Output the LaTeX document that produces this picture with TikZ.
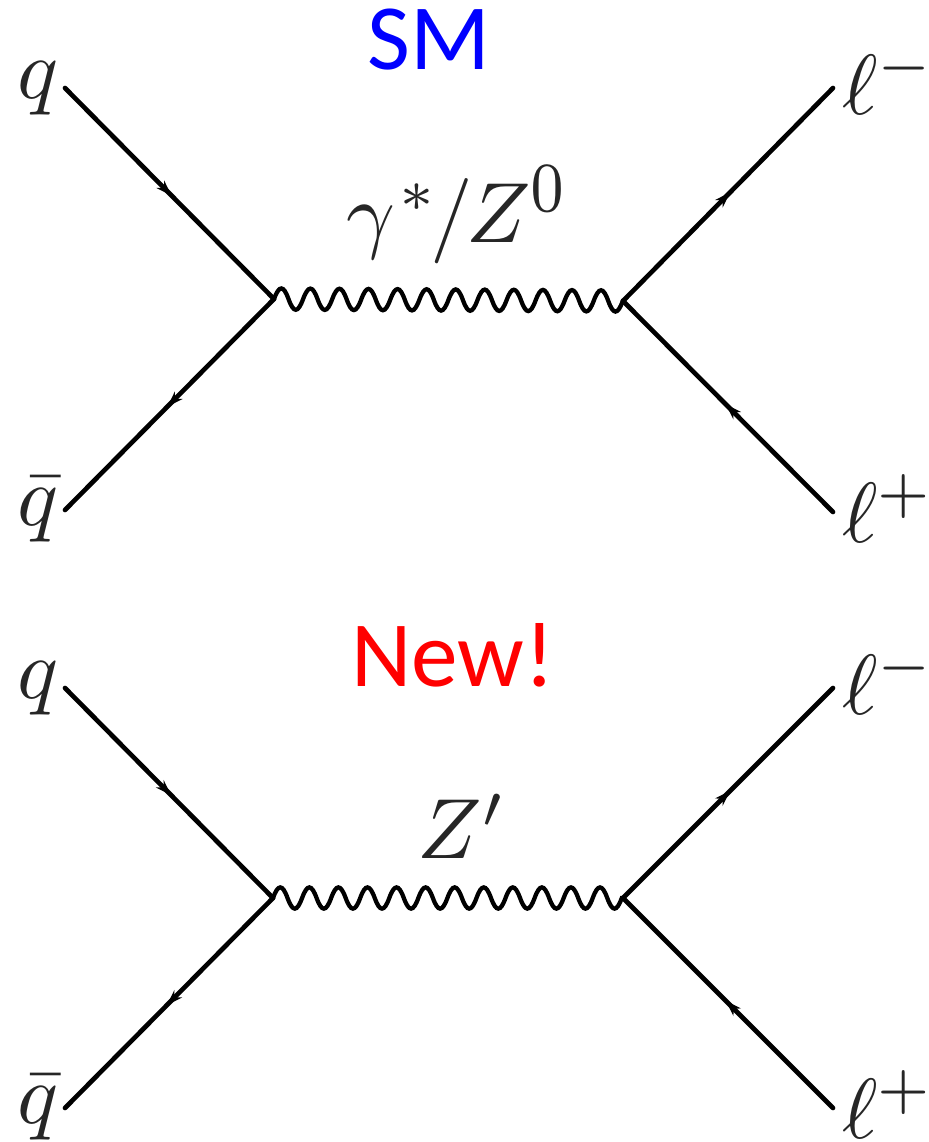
\documentclass[tikz,border=0pt]{standalone}
\usepackage{amsmath,amssymb}
\usepackage{fontspec}
\usepackage{xcolor}
\usepackage{tikz}
\usetikzlibrary{arrows.meta,positioning,decorations.markings}
\newfontfamily\titlefont{Carlito}
\definecolor{smblue}{RGB}{0,0,255}
\definecolor{newred}{RGB}{255,0,0}
\pgfdeclaredecoration{wiggle}{wave}{
  \state{wave}[width=\pgfdecorationsegmentlength,
               switch if less than=0.5\pgfdecorationsegmentlength to last]{
    \pgfpathcurveto{\pgfqpoint{0.18\pgfdecorationsegmentlength}{1.33\pgfdecorationsegmentamplitude}}
                   {\pgfqpoint{0.32\pgfdecorationsegmentlength}{1.33\pgfdecorationsegmentamplitude}}
                   {\pgfqpoint{0.5\pgfdecorationsegmentlength}{0pt}}
    \pgfpathcurveto{\pgfqpoint{0.68\pgfdecorationsegmentlength}{-1.33\pgfdecorationsegmentamplitude}}
                   {\pgfqpoint{0.82\pgfdecorationsegmentlength}{-1.33\pgfdecorationsegmentamplitude}}
                   {\pgfqpoint{\pgfdecorationsegmentlength}{0pt}}
  }
  \state{last}[width=0pt,next state=final]{\pgfpathlineto{\pgfpointdecoratedinputsegmentlast}}
  \state{final}{\pgfpathlineto{\pgfpointdecoratedpathlast}}
}

\begin{document}
\begin{tikzpicture}[
    x=0.75pt, y=-0.75pt,
    node distance=0.1cm and 0.1cm,
    lab/.style={scale=6.4, inner sep=0pt, text=black!85},
    head/.style={font=\titlefont\fontsize{70}{80}\selectfont, inner sep=0pt},
    fermion/.style={line width=3.5pt, line cap=round, decoration={markings,
                    mark=at position 0.51 with {\arrow[line width=1pt]{Stealth[length=12pt,width=8pt]}}},
                    postaction={decorate}},
    boson/.style={line width=3.2pt, decorate, decoration={wiggle, segment length=21.8pt, amplitude=8pt}}
]
\useasboundingbox (0,0) rectangle (928,1142);
% SM diagram
\coordinate (q1) at (65,88);
\coordinate (qb1) at (65,510);
\coordinate (va1) at (274,299);
\coordinate (vb1) at (623,301);
\coordinate (lm1) at (833,88);
\coordinate (lp1) at (833,512);
\node[lab, left=0.115cm of q1] (qlab1) {$q$};
\node[lab, left=0.115cm of qb1] (qblab1) {$\bar{q}$};
\node[lab, right=0.2cm of lm1, yshift=0.9pt] (lmlab1) {$\ell^-$};
\node[lab, right=0.2cm of lp1, yshift=0.4pt] (lplab1) {$\ell^+$};
\node[head, text=smblue] (sm) at (429,40) {SM};
\node[lab] (gz) at (458,215) {$\gamma^{\mkern1mu *}\mkern-1.7mu/\mkern-1.5mu Z^{\scalebox{1}[1.18]{$\scriptstyle 0$}}$};
\draw[fermion] (q1) -- (va1);
\draw[fermion] (va1) -- (qb1);
\draw[fermion] (vb1) -- (lm1);
\draw[fermion] (lp1) -- (vb1);
\draw[boson] (va1) -- (vb1);
% new diagram
\coordinate (q2) at (65,688);
\coordinate (qb2) at (65,1108);
\coordinate (va2) at (273,898);
\coordinate (vb2) at (623,898);
\coordinate (lm2) at (833,688);
\coordinate (lp2) at (833,1108);
\node[lab, left=0.115cm of q2] (qlab2) {$q$};
\node[lab, left=0.115cm of qb2] (qblab2) {$\bar{q}$};
\node[lab, right=0.2cm of lm2, yshift=0.9pt] (lmlab2) {$\ell^-$};
\node[lab, right=0.2cm of lp2, yshift=0.4pt] (lplab2) {$\ell^+$};
\node[head, text=newred] (new) at (453,655) {New!};
\node[lab] (zp) at (462,826) {$Z'$};
\draw[fermion] (q2) -- (va2);
\draw[fermion] (va2) -- (qb2);
\draw[fermion] (vb2) -- (lm2);
\draw[fermion] (lp2) -- (vb2);
\draw[boson] (va2) -- (vb2);
\end{tikzpicture}
\end{document}
